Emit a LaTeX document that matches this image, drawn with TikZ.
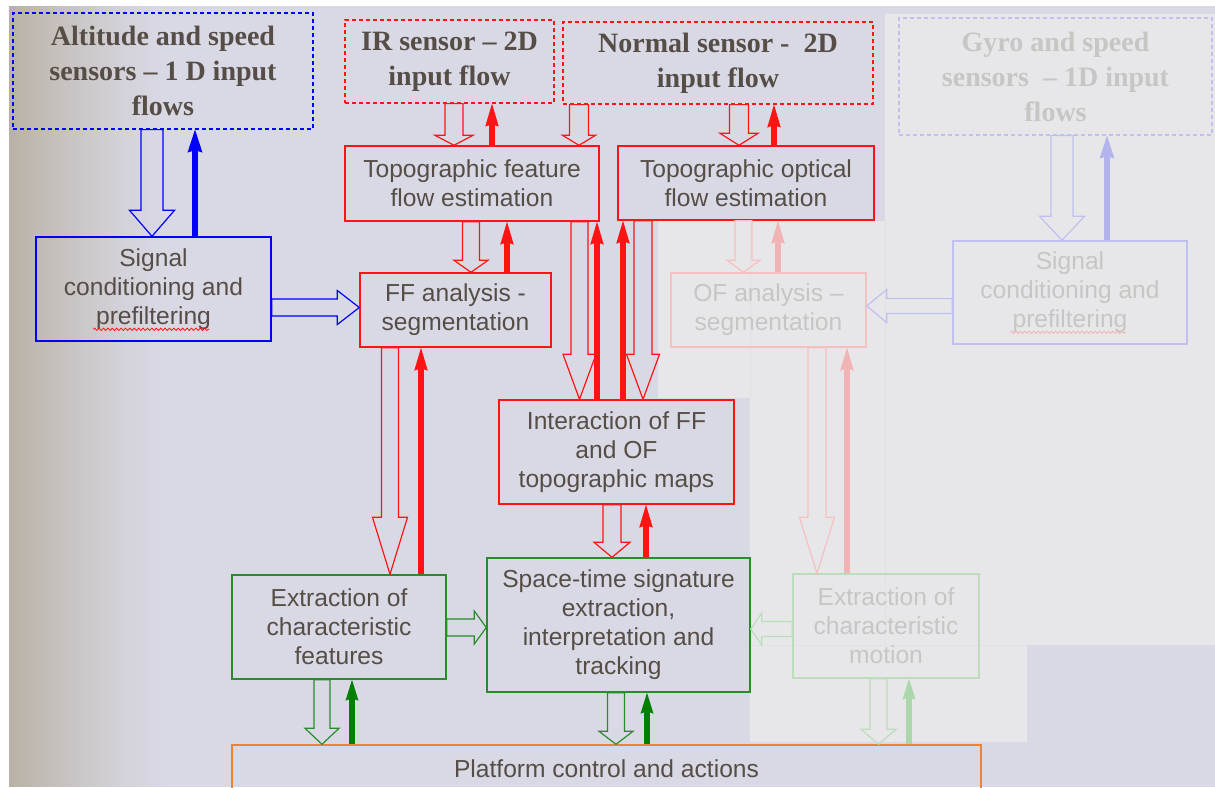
\documentclass[tikz,border=0pt]{standalone}
\usepackage{fontspec}
\setmainfont{Liberation Serif}
\setsansfont{Liberation Sans}
\usetikzlibrary{arrows.meta,calc,decorations.pathmorphing}

\definecolor{bg}{RGB}{217,217,229}
\definecolor{panel}{RGB}{231,231,234}
\definecolor{panelline}{RGB}{224,224,229}
\definecolor{edgetone}{RGB}{186,178,166}
\definecolor{txt}{RGB}{86,78,70}
\definecolor{txtf}{RGB}{200,198,195}
\definecolor{rd}{RGB}{255,20,20}
\definecolor{rdf}{RGB}{245,192,192}
\definecolor{rdft}{RGB}{240,180,180}
\definecolor{bl}{RGB}{0,0,255}
\definecolor{blf}{RGB}{192,192,240}
\definecolor{blft}{RGB}{180,180,236}
\definecolor{gr}{RGB}{40,140,40}
\definecolor{grt}{RGB}{0,128,0}
\definecolor{grf}{RGB}{188,220,188}
\definecolor{grft}{RGB}{172,214,172}
\definecolor{org}{RGB}{240,130,50}

\newcommand\boxfont{\sffamily\fontsize{12.3}{14.5}\selectfont}
\newcommand\sensfont{\rmfamily\bfseries\fontsize{14}{17.5}\selectfont}

% box from (x1,y1) to (x2,y2) in pixel units
\newcommand\boxnode[7]{\node[#1, minimum width={(#5-#3)*0.5pt}, minimum height={(#6-#4)*0.5pt}] (#2) at ({(#3+#5)/2},{(#4+#6)/2}) {#7};}

\tikzset{
  BAw/.store in=\BAw, BAw=8.5,
  BAh/.store in=\BAh, BAh=17,
  BAl/.store in=\BAl, BAl=12,
  hdown/.style={to path={($(\tikztostart)+(-\BAw,0)$) -- ($(\tikztotarget)+(-\BAw,-\BAl)$) -- ($(\tikztotarget)+(-\BAh,-\BAl)$) -- (\tikztotarget) -- ($(\tikztotarget)+(\BAh,-\BAl)$) -- ($(\tikztotarget)+(\BAw,-\BAl)$) -- ($(\tikztostart)+(\BAw,0)$) -- cycle}},
  hright/.style={to path={($(\tikztostart)+(0,-\BAw)$) -- ($(\tikztotarget)+(-\BAl,-\BAw)$) -- ($(\tikztotarget)+(-\BAl,-\BAh)$) -- (\tikztotarget) -- ($(\tikztotarget)+(-\BAl,\BAh)$) -- ($(\tikztotarget)+(-\BAl,\BAw)$) -- ($(\tikztostart)+(0,\BAw)$) -- cycle}},
  hleft/.style={to path={($(\tikztostart)+(0,-\BAw)$) -- ($(\tikztotarget)+(\BAl,-\BAw)$) -- ($(\tikztotarget)+(\BAl,-\BAh)$) -- (\tikztotarget) -- ($(\tikztotarget)+(\BAl,\BAh)$) -- ($(\tikztotarget)+(\BAl,\BAw)$) -- ($(\tikztostart)+(0,\BAw)$) -- cycle}},
  box/.style={draw, line width=0.7pt, inner sep=0pt, align=center, text=txt, font=\boxfont},
  sensor/.style={box, font=\sensfont, dash pattern=on 2pt off 1.5pt, line width=0.6pt},
  hol/.style={line width=0.6pt, miter limit=20},
  holrd/.style={hol, draw=rd}, holrdf/.style={hol, draw=rdf},
  holbl/.style={hol, draw=bl}, holblf/.style={hol, draw=blf},
  holgr/.style={hol, draw=gr}, holgrf/.style={hol, draw=grf},
  tkrd/.style={draw=rd, line width=2.8pt, -{Stealth[length=11.5pt,width=6.8pt,inset=1.2pt,line width=0pt]}},
  tkrdf/.style={tkrd, draw=rdft},
  tkbl/.style={draw=bl, line width=2.8pt, -{Stealth[length=11.5pt,width=7.5pt,inset=1.2pt,line width=0pt]}},
  tkblf/.style={tkbl, draw=blft},
  tkgr/.style={draw=grt, line width=2.8pt, -{Stealth[length=10.5pt,width=6.5pt,inset=1.2pt,line width=0pt]}},
  tkgrf/.style={tkgr, draw=grft},
  squiggle/.style={line width=0.4pt, decorate, decoration={snake, amplitude=0.6pt, segment length=2.2pt}}
}

\begin{document}
\begin{tikzpicture}[x=0.5pt, y=-0.5pt]
\useasboundingbox (0,0) rectangle (1215,787);
\clip (0,0) rectangle (1215,787);

% page background with a warm tone fading in from the left
\fill[white] (0,0) rectangle (1215,787);
\fill[bg] (9,6) rectangle (1215,787);
\foreach \i in {0,...,39}{
  \pgfmathsetmacro\mix{100*(1-\i/39)^1.3}
  \fill[edgetone!\mix!bg] ({9+4*\i},6) rectangle ({9+4*\i+4.6},787);
}

% light panel behind the optical-flow branch
\fill[panel] (885,14) -- (1215,14) -- (1215,645) -- (1027,645) -- (1027,742)
  -- (750,742) -- (750,398) -- (658,398) -- (658,221) -- (885,221) -- cycle;
\draw[panelline, line width=0.5pt] (750,221) -- (750,398);
\draw[panelline, line width=0.5pt] (885,221) -- (885,645);
\draw[panelline, line width=0.5pt] (750,645) -- (1027,645);

% input sensors
\boxnode{sensor, draw=bl}{alt}{13}{13}{313}{129}{Altitude and speed\\sensors – 1 D input\\flows}
\boxnode{sensor, draw=rd}{ir}{345}{20}{554}{103}{IR sensor – 2D\\input flow}
\boxnode{sensor, draw=rd}{nor}{563}{22}{873}{104}{Normal sensor -\ \ 2D\\input flow}
\boxnode{sensor, draw=blf, text=txtf}{gyro}{899}{18}{1212}{135}{Gyro and speed\\sensors\ \ – 1D input\\flows}

% processing stages
\boxnode{box, draw=rd}{tffe}{345}{146}{599}{221}{Topographic feature\\flow estimation}
\boxnode{box, draw=rd}{tofe}{618}{146}{874}{220}{Topographic optical\\flow estimation}
\boxnode{box, draw=bl}{sigL}{36}{237}{271}{341}{Signal\\conditioning and\\prefiltering}
\boxnode{box, draw=rd}{ff}{360}{273}{551}{347}{FF analysis -\\segmentation}
\boxnode{box, draw=rdf, text=txtf}{of}{671}{273}{866}{347}{OF analysis –\\segmentation}
\boxnode{box, draw=blf, text=txtf}{sigR}{953}{241}{1187}{344}{Signal\\conditioning and\\prefiltering}
\boxnode{box, draw=rd}{inter}{499}{400}{734}{504}{Interaction of FF\\and OF\\topographic maps}
\boxnode{box, draw=gr}{exf}{232}{575}{446}{679}{Extraction of\\characteristic\\features}
\boxnode{box, draw=gr}{st}{487}{558}{750}{692}{Space-time signature\\extraction,\\interpretation and\\tracking}
\boxnode{box, draw=grf, text=txtf}{exm}{793}{574}{979}{678}{Extraction of\\characteristic\\motion}
\boxnode{box, draw=org}{plat}{232}{745}{981}{793}{Platform control and actions}

% spell-check marks under "prefiltering"
\draw[squiggle, draw=rd] ($(sigL.north west)+(58,93)$) -- ++(116,0);
\draw[squiggle, draw=rdft] ($(sigR.north west)+(58,92)$) -- ++(116,0);

% hollow (data) arrows
\draw[holbl, BAw=11, BAh=22.5, BAl=26, hdown] (alt.south -| 152,0) to (sigL.north -| 152,0);
\draw[holbl, BAw=8.5, BAh=17, BAl=22, hright] (sigL.east |- 0,307.5) to (ff.west |- 0,307.5);
\draw[holrd, BAw=9, BAh=19, BAl=10, hdown] (ir.south -| 454,0) to (tffe.north -| 454,0);
\draw[holrd, BAw=9.5, BAh=16.5, BAl=10, hdown] (nor.south -| 579,0) to (tffe.north -| 579,0);
\draw[holrd, BAw=9.5, BAh=19, BAl=12, hdown] (nor.south -| 739,0) to (tofe.north -| 739,0);
\draw[holrd, BAw=8.5, BAh=17, BAl=12, hdown] (tffe.south -| 471,0) to (ff.north -| 471,0);
\draw[holrd, BAw=8.5, BAh=16.5, BAl=45, hdown] (tffe.south -| 579.5,0) to (inter.north -| 579.5,0);
\draw[holrd, BAw=9, BAh=16.5, BAl=45, hdown] (tofe.south -| 643,0) to (inter.north -| 643,0);
\draw[holrdf, BAw=8.5, BAh=16.5, BAl=12, hdown] (tofe.south -| 743.5,0) to (of.north -| 743.5,0);
\draw[holrd, BAw=8.5, BAh=17.5, BAl=57, hdown] (ff.south -| 390,0) to (exf.north -| 390,0);
\draw[holrdf, BAw=9, BAh=17.5, BAl=56, hdown] (of.south -| 817,0) to (exm.north -| 817,0);
\draw[holblf, BAw=7.5, BAh=16.5, BAl=20, hleft] (sigR.west |- 0,306) to (of.east |- 0,306);
\draw[holblf, BAw=11, BAh=22.5, BAl=24, hdown] (gyro.south -| 1062,0) to (sigR.north -| 1062,0);
\draw[holrd, BAw=9, BAh=18, BAl=15, hdown] (inter.south -| 612,0) to (st.north -| 612,0);
\draw[holgr, BAw=8.5, BAh=16.5, BAl=12, hright] (exf.east |- 0,627.5) to (st.west |- 0,627.5);
\draw[holgrf, BAw=7.5, BAh=16, BAl=11, hleft] (exm.west |- 0,629) to (st.east |- 0,629);
\draw[holgr, BAw=8, BAh=17, BAl=16, hdown] (exf.south -| 322,0) to (plat.north -| 322,0);
\draw[holgr, BAw=8.5, BAh=17, BAl=13, hdown] (st.south -| 616,0) to (plat.north -| 616,0);
\draw[holgrf, BAw=8.5, BAh=17.5, BAl=15, hdown] (exm.south -| 878.5,0) to (plat.north -| 878.5,0);

% solid (feedback) arrows
\draw[tkbl] (sigL.north -| 195,0) -- (alt.south -| 195,0);
\draw[tkrd] (tffe.north -| 492,0) -- (ir.south -| 492,0);
\draw[tkrd] (tofe.north -| 774,0) -- (nor.south -| 774,0);
\draw[tkrd] (ff.north -| 507,0) -- (tffe.south -| 507,0);
\draw[tkrd] (inter.north -| 597,0) -- (tffe.south -| 597,0);
\draw[tkrd] (inter.north -| 623,0) -- (tofe.south -| 623,0);
\draw[tkrdf] (of.north -| 778,0) -- (tofe.south -| 778,0);
\draw[tkrd] (exf.north -| 421,0) -- (ff.south -| 421,0);
\draw[tkrdf] (exm.north -| 847,0) -- (of.south -| 847,0);
\draw[tkblf] (sigR.north -| 1107,0) -- (gyro.south -| 1107,0);
\draw[tkrd] (st.north -| 646,0) -- (inter.south -| 646,0);
\draw[tkgr] (plat.north -| 352,0) -- (exf.south -| 352,0);
\draw[tkgr] (plat.north -| 647,0) -- (st.south -| 647,0);
\draw[tkgrf] (plat.north -| 909,0) -- (exm.south -| 909,0);
\end{tikzpicture}
\end{document}
